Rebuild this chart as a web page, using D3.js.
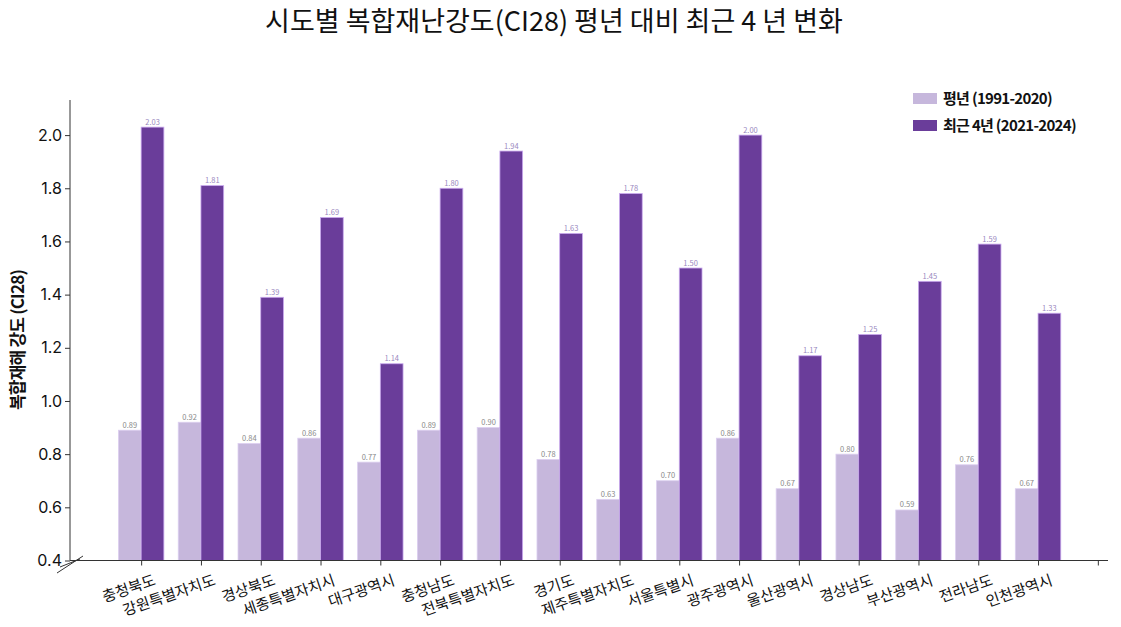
<!DOCTYPE html>
<html><head><meta charset="utf-8">
<script src="https://cdn.jsdelivr.net/npm/d3@7"></script>
<style>
body{margin:0;background:#fff;}
text{font-family:"Noto Sans CJK KR","Noto Sans",sans-serif;}
</style></head>
<body><svg id="c" width="1121" height="627"></svg>
<script>
const categories = ["충청북도","강원특별자치도","경상북도","세종특별자치시","대구광역시","충청남도","전북특별자치도","경기도","제주특별자치도","서울특별시","광주광역시","울산광역시","경상남도","부산광역시","전라남도","인천광역시"];
const normalValues = [0.89,0.92,0.84,0.86,0.77,0.89,0.90,0.78,0.63,0.70,0.86,0.67,0.80,0.59,0.76,0.67];
const recentValues = [2.03,1.81,1.39,1.69,1.14,1.80,1.94,1.63,1.78,1.50,2.00,1.17,1.25,1.45,1.59,1.33];
const yTicks = [0.4,0.6,0.8,1.0,1.2,1.4,1.6,1.8,2.0];
const seriesNames = ["평년 (1991-2020)","최근 4년 (2021-2024)"];
const titleText = "시도별 복합재난강도(CI28) 평년 대비 최근 4 년 변화";
const yLabel = "복합재해 강도 (CI28)";

const colors = ["#c6b7dc","#6a3d9a"];
const svg = d3.select("#c");
const x = d3.scaleLinear().domain([-1.19,16.17]).range([70,1108]);
const y = d3.scaleLinear().domain([0.4,2.132]).range([560.5,100]);
const bw = 0.38;

// title
svg.append("text").attr("x",554).attr("y",31).attr("text-anchor","middle")
  .attr("font-size",27).attr("fill","#111").attr("font-weight",400).text(titleText);

// bars
const g = svg.append("g");
[normalValues, recentValues].forEach((vals,s)=>{
  g.selectAll(null).data(vals).enter().append("rect")
    .attr("x",(d,i)=> s===0 ? x(i-bw) : x(i))
    .attr("width", x(bw)-x(0))
    .attr("y", d=>y(d))
    .attr("height", d=>y(0.4)-y(d))
    .attr("fill", colors[s])
    .attr("stroke", s===0 ? "#dccff0" : "#c9a9ee").attr("stroke-width",0.8);
  g.selectAll(null).data(vals).enter().append("text")
    .attr("x",(d,i)=> s===0 ? x(i-bw/2) : x(i+bw/2))
    .attr("y", d=>y(d)-2.5)
    .attr("text-anchor","middle").attr("font-size",7.5)
    .attr("fill", s===0 ? "#8a8a8a" : "#9a88c0")
    .text(d=>d.toFixed(2));
});

// y axis
const yAxis = d3.axisLeft(y).tickValues(yTicks).tickFormat(d3.format(".1f")).tickSize(5).tickSizeOuter(0);
const ya = svg.append("g").attr("transform","translate(70,0)").call(yAxis);
ya.select(".domain").attr("stroke","#333").attr("d","M0,100V560.5");
ya.selectAll(".tick line").attr("stroke","#333");
ya.selectAll(".tick text").attr("font-size",16).attr("fill","#111").attr("x",-8)
  .style("font-family","Inter,'Noto Sans CJK KR',sans-serif");

// x axis
const xAxis = d3.axisBottom(x).tickValues(d3.range(0,17)).tickFormat(i=>categories[i]||"").tickSize(5).tickSizeOuter(0);
const xa = svg.append("g").attr("transform","translate(0,560.5)").call(xAxis);
xa.select(".domain").attr("stroke","#333").attr("d","M70,0H1108");
xa.selectAll(".tick line").attr("stroke","#333");
xa.selectAll(".tick text").attr("font-size",15).attr("fill","#111")
  .attr("text-anchor","end").attr("dy",0).attr("y",0)
  .attr("transform","translate(15,24) rotate(-19)");

// axis break
svg.append("line").attr("x1",57).attr("y1",573).attr("x2",83).attr("y2",556).attr("stroke","#333").attr("stroke-width",1);
svg.append("line").attr("x1",60).attr("y1",567).attr("x2",80).attr("y2",559).attr("stroke","#333").attr("stroke-width",1);

// y label
svg.append("text").attr("transform","translate(24,340) rotate(-90)").attr("text-anchor","middle")
  .attr("font-size",17).attr("font-weight",700).attr("letter-spacing",-0.8).attr("fill","#111").text(yLabel);

// legend
seriesNames.forEach((n,s)=>{
  const ly = 93 + s*27;
  svg.append("rect").attr("x",913).attr("y",ly).attr("width",24).attr("height",11).attr("fill",colors[s]);
  svg.append("text").attr("x",943).attr("y",ly+11).attr("font-size",15).attr("font-weight",700)
    .attr("letter-spacing",-0.7).attr("fill","#111").text(n);
});
</script></body></html>
